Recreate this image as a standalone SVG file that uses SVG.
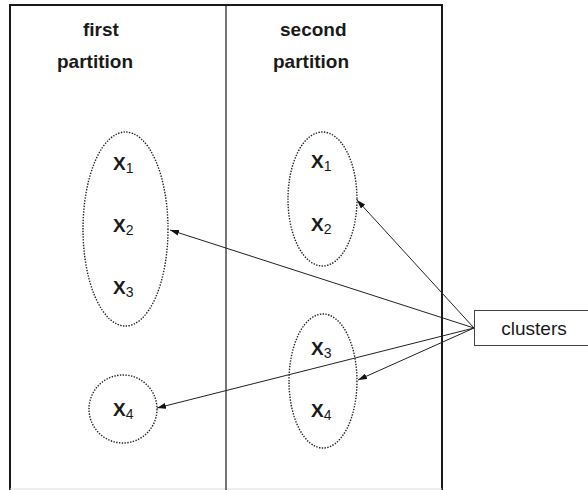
<svg xmlns="http://www.w3.org/2000/svg" width="588" height="490" viewBox="0 0 588 490">
<style>
.frame{fill:none;stroke:#1a1a1a;stroke-width:2}
.div{stroke:#1a1a1a;stroke-width:1.2}
.title{font-family:"Liberation Sans",Arial,sans-serif;font-weight:bold;font-size:19px;fill:#1a1a1a}
.x{font-family:"Liberation Sans",Arial,sans-serif;font-weight:bold;font-size:19px;fill:#1a1a1a}
.sub{font-weight:normal;font-size:14px}
.cl{fill:none;stroke:#222;stroke-width:1.4;stroke-dasharray:1.4 1.4}
.box{fill:#fff;stroke:#444;stroke-width:1}
.lbl{font-family:"Liberation Sans",Arial,sans-serif;font-size:19px;fill:#1a1a1a}
.conn{stroke:#222;stroke-width:1;fill:none;marker-end:url(#ah)}
</style>
<defs>
<marker id="ah" markerWidth="9" markerHeight="6" refX="9" refY="3" orient="auto" markerUnits="userSpaceOnUse">
<path d="M0,0 L9,3 L0,6 Z" fill="#111"/>
</marker>
</defs>
<g id="partitions">
<path class="frame" d="M10,490 V5 H442 V490"/>
<line x1="10" y1="489" x2="442" y2="489" stroke="#ddd" stroke-width="1"/>
<line class="div" x1="226" y1="5" x2="226" y2="490"/>
<text class="title" x="83" y="36">first</text>
<text class="title" x="57" y="68">partition</text>
<text class="title" x="280" y="36">second</text>
<text class="title" x="273" y="68">partition</text>
</g>
<g id="connectors">
<line class="conn" x1="474" y1="328" x2="170" y2="230"/>
<line class="conn" x1="474" y1="328" x2="357" y2="200"/>
<line class="conn" x1="474" y1="328" x2="358" y2="380"/>
<line class="conn" x1="474" y1="328" x2="157" y2="408"/>
</g>
<g id="cluster-left-123">
<ellipse class="cl" cx="125.5" cy="229" rx="42.5" ry="97"/>
<text class="x" x="113" y="170">X<tspan class="sub" dy="3">1</tspan></text>
<text class="x" x="113" y="232">X<tspan class="sub" dy="3">2</tspan></text>
<text class="x" x="113" y="294">X<tspan class="sub" dy="3">3</tspan></text>
</g>
<g id="cluster-left-4">
<ellipse class="cl" cx="123" cy="409" rx="34" ry="34"/>
<text class="x" x="113" y="416">X<tspan class="sub" dy="3">4</tspan></text>
</g>
<g id="cluster-right-12">
<ellipse class="cl" cx="322.5" cy="199" rx="34.5" ry="67"/>
<text class="x" x="311" y="168">X<tspan class="sub" dy="3">1</tspan></text>
<text class="x" x="311" y="231">X<tspan class="sub" dy="3">2</tspan></text>
</g>
<g id="cluster-right-34">
<ellipse class="cl" cx="323" cy="381" rx="34" ry="67"/>
<text class="x" x="311" y="355">X<tspan class="sub" dy="3">3</tspan></text>
<text class="x" x="311" y="417">X<tspan class="sub" dy="3">4</tspan></text>
</g>
<g id="clusters">
<rect class="box" x="474.5" y="310.5" width="120" height="35"/>
<text class="lbl" x="534" y="335" text-anchor="middle">clusters</text>
</g>
</svg>
